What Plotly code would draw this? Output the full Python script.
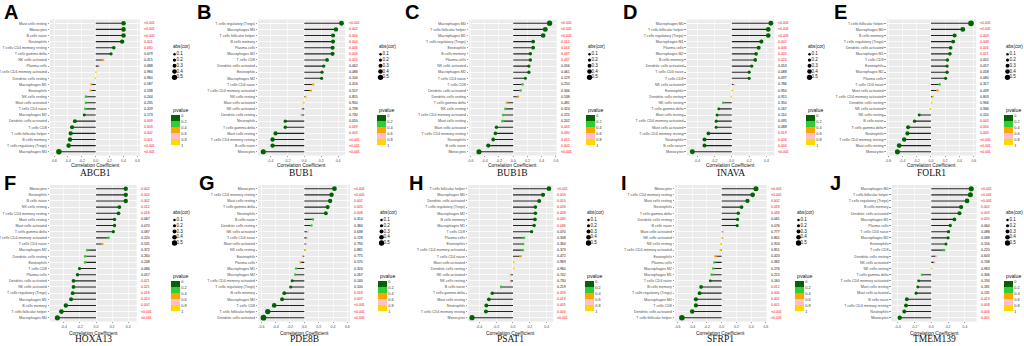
import plotly.graph_objects as go

W, H = 1024, 346

# ---------------- data ----------------
ABCB1_cells = ["Mast cells resting", "Monocytes", "B cells naive", "Neutrophils", "T cells CD4 memory resting",
               "T cells gamma delta", "NK cells activated", "Plasma cells", "T cells CD4 memory activated",
               "Dendritic cells resting", "Macrophages M1", "Eosinophils", "NK cells resting", "Mast cells activated",
               "T cells CD4 naive", "Macrophages M2", "Dendritic cells activated", "T cells CD8",
               "T cells follicular helper", "B cells memory", "T cells regulatory (Tregs)", "Macrophages M0"]
ABCB1_cor = [0.40, 0.40, 0.40, 0.38, 0.26, 0.22, 0.105, 0.05, 0.004, -0.006, -0.065, -0.075, -0.14, -0.14,
             -0.15, -0.165, -0.30, -0.34, -0.36, -0.37, -0.39, -0.53]
ABCB1_p = ["<0.001", "<0.001", "<0.001", "0.001", "0.030", "0.079", "0.415", "0.688", "0.984", "0.960", "0.587",
           "0.538", "0.244", "0.235", "0.209", "0.173", "0.009", "0.003", "0.002", "0.001", "<0.001", "<0.001"]

BUB1_cells = ["T cells regulatory (Tregs)", "Macrophages M0", "T cells follicular helper", "B cells memory",
              "Plasma cells", "Macrophages M1", "T cells CD8", "Dendritic cells activated", "Eosinophils",
              "Macrophages M2", "T cells CD4 naive", "T cells CD4 memory activated", "NK cells resting",
              "Mast cells activated", "NK cells activated", "Dendritic cells resting", "Neutrophils",
              "T cells gamma delta", "Mast cells resting", "T cells CD4 memory resting", "B cells naive", "Monocytes"]
BUB1_cor = [0.44, 0.375, 0.34, 0.34, 0.335, 0.335, 0.27, 0.23, 0.21, 0.205, 0.105, 0.08, 0.02, -0.01, -0.03,
            -0.04, -0.225, -0.225, -0.34, -0.375, -0.375, -0.485]
BUB1_p = ["<0.001", "0.002", "0.004", "0.004", "0.006", "0.006", "0.020", "0.062", "0.086", "0.100", "0.416",
          "0.557", "0.855", "0.900", "0.798", "0.730", "0.050", "0.049", "0.003", "<0.001", "<0.001", "<0.001"]

BUB1B_cells = ["Macrophages M0", "T cells follicular helper", "Macrophages M1", "T cells regulatory (Tregs)",
               "Eosinophils", "B cells memory", "Plasma cells", "NK cells activated", "Macrophages M2",
               "T cells CD4 naive", "T cells CD8", "Dendritic cells activated", "Dendritic cells resting",
               "T cells gamma delta", "NK cells resting", "T cells CD4 memory activated", "Mast cells resting",
               "Mast cells activated", "T cells CD4 memory resting", "Neutrophils", "B cells naive", "Monocytes"]
BUB1B_cor = [0.51, 0.45, 0.42, 0.28, 0.28, 0.24, 0.24, 0.22, 0.22, 0.17, 0.13, 0.105, 0.07, -0.09, -0.11, -0.14,
             -0.15, -0.235, -0.25, -0.28, -0.35, -0.48]
BUB1B_p = ["<0.001", "<0.001", "<0.001", "0.012", "0.014", "0.037", "0.037", "0.056", "0.061", "0.129", "0.250",
           "0.346", "0.538", "0.481", "0.324", "0.225", "0.202", "0.043", "0.030", "0.015", "0.002", "<0.001"]

INAVA_cells = ["Macrophages M0", "T cells follicular helper", "T cells regulatory (Tregs)", "Macrophages M1",
               "Plasma cells", "Macrophages M2", "B cells memory", "Dendritic cells activated", "T cells CD4 naive",
               "T cells CD8", "NK cells activated", "Eosinophils", "Dendritic cells resting", "NK cells resting",
               "T cells gamma delta", "Mast cells resting", "T cells CD4 memory activated", "Mast cells activated",
               "T cells CD4 memory resting", "Neutrophils", "B cells naive", "Monocytes"]
INAVA_cor = [0.45, 0.42, 0.42, 0.34, 0.31, 0.28, 0.27, 0.23, 0.20, 0.20, 0.03, 0.01, -0.005, -0.10, -0.15, -0.17,
             -0.18, -0.18, -0.27, -0.315, -0.315, -0.455]
INAVA_p = ["<0.001", "<0.001", "<0.001", "0.002", "0.006", "0.020", "0.024", "0.053", "0.088", "0.097", "0.786",
           "0.950", "0.915", "0.350", "0.167", "0.110", "0.095", "0.088", "0.019", "0.004", "0.004", "<0.001"]

FOLR1_cells = ["T cells follicular helper", "Macrophages M0", "B cells memory", "T cells regulatory (Tregs)",
               "Dendritic cells activated", "Macrophages M1", "T cells CD8", "Eosinophils", "Macrophages M2",
               "Plasma cells", "T cells CD4 naive", "Mast cells activated", "T cells CD4 memory activated",
               "Dendritic cells resting", "NK cells activated", "NK cells resting", "B cells naive",
               "T cells gamma delta", "Neutrophils", "T cells CD4 memory resting", "Mast cells resting", "Monocytes"]
FOLR1_cor = [0.56, 0.445, 0.33, 0.31, 0.275, 0.265, 0.23, 0.225, 0.225, 0.205, 0.12, 0.09, 0.03, 0.01, -0.01,
             -0.165, -0.23, -0.32, -0.33, -0.375, -0.445, -0.47]
FOLR1_p = ["<0.001", "<0.001", "0.003", "0.008", "0.016", "0.021", "0.052", "0.057", "0.058", "0.080", "0.317",
           "0.439", "0.803", "0.946", "0.946", "0.150", "0.043", "0.004", "0.003", "<0.001", "<0.001", "<0.001"]

HOXA13_cells = ["Monocytes", "Neutrophils", "B cells naive", "NK cells resting", "T cells CD4 memory resting",
                "Mast cells resting", "Mast cells activated", "T cells gamma delta", "T cells CD4 memory activated",
                "T cells CD4 naive", "Macrophages M2", "Dendritic cells resting", "Eosinophils", "T cells CD8",
                "Plasma cells", "Dendritic cells activated", "NK cells activated", "T cells regulatory (Tregs)",
                "Macrophages M1", "B cells memory", "T cells follicular helper", "Macrophages M0"]
HOXA13_cor = [0.37, 0.37, 0.37, 0.29, 0.28, 0.23, 0.23, 0.215, 0.155, 0.08, -0.11, -0.135, -0.135, -0.205, -0.23,
              -0.28, -0.28, -0.29, -0.31, -0.375, -0.43, -0.48]
HOXA13_p = ["0.002", "0.002", "0.002", "0.012", "0.018", "0.067", "0.070", "0.087", "0.220", "0.531", "0.372",
            "0.260", "0.248", "0.086", "0.057", "0.021", "0.021", "0.018", "0.010", "0.002", "<0.001", "<0.001"]

PDE8B_cells = ["Monocytes", "T cells CD4 memory resting", "Mast cells resting", "T cells gamma delta", "Neutrophils",
               "B cells naive", "Dendritic cells resting", "NK cells activated", "T cells CD4 naive",
               "Mast cells activated", "NK cells resting", "Eosinophils", "Plasma cells", "Macrophages M1",
               "Macrophages M2", "T cells CD4 memory activated", "T cells regulatory (Tregs)", "B cells memory",
               "Macrophages M0", "T cells CD8", "T cells follicular helper", "Dendritic cells activated"]
PDE8B_cor = [0.42, 0.38, 0.36, 0.325, 0.30, 0.12, 0.10, 0.05, 0.04, 0.03, 0.015, -0.03, -0.055, -0.115, -0.125,
             -0.17, -0.19, -0.28, -0.31, -0.42, -0.51, -0.57]
PDE8B_p = ["<0.001", "<0.001", "0.002", "0.005", "0.008", "0.314", "0.384", "0.638", "0.728", "0.794", "0.881",
           "0.775", "0.570", "0.324", "0.267", "0.140", "0.100", "0.018", "0.007", "<0.001", "<0.001", "<0.001"]

PSAT1_cells = ["T cells follicular helper", "Macrophages M0", "Dendritic cells activated", "T cells regulatory (Tregs)",
               "Macrophages M2", "B cells memory", "Macrophages M1", "T cells CD8", "Plasma cells", "Eosinophils",
               "T cells CD4 memory activated", "T cells CD4 naive", "Mast cells activated", "Dendritic cells resting",
               "NK cells activated", "NK cells resting", "B cells naive", "T cells gamma delta", "Mast cells resting",
               "Neutrophils", "T cells CD4 memory resting", "Monocytes"]
PSAT1_cor = [0.425, 0.355, 0.31, 0.265, 0.265, 0.26, 0.25, 0.22, 0.13, 0.12, 0.115, 0.09, 0.01, 0.01, -0.035,
             -0.035, -0.14, -0.245, -0.285, -0.315, -0.32, -0.485]
PSAT1_p = ["<0.001", "0.003", "0.010", "0.026", "0.028", "0.030", "0.036", "0.070", "0.308", "0.364", "0.373",
           "0.472", "0.969", "0.960", "0.742", "0.730", "0.219", "0.033", "0.013", "0.005", "0.004", "<0.001"]

SFRP1_cells = ["Monocytes", "T cells CD4 memory resting", "Mast cells resting", "Neutrophils", "T cells gamma delta",
               "Dendritic cells resting", "B cells naive", "Mast cells activated", "NK cells activated",
               "NK cells resting", "T cells CD4 memory activated", "Eosinophils", "Plasma cells", "Macrophages M2",
               "Macrophages M1", "T cells CD4 naive", "B cells memory", "T cells regulatory (Tregs)",
               "Macrophages M0", "T cells CD8", "Dendritic cells activated", "T cells follicular helper"]
SFRP1_cor = [0.465, 0.42, 0.35, 0.27, 0.225, 0.215, 0.21, 0.02, 0.015, -0.01, -0.02, -0.085, -0.10, -0.115, -0.135,
             -0.155, -0.28, -0.30, -0.35, -0.35, -0.40, -0.54]
SFRP1_p = ["<0.001", "<0.001", "0.002", "0.018", "0.048", "0.061", "0.076", "0.777", "0.841", "0.924", "0.851",
           "0.420", "0.382", "0.276", "0.215", "0.160", "0.012", "0.006", "0.002", "0.001", "<0.001", "<0.001"]

TMEM139_cells = ["Macrophages M0", "T cells follicular helper", "T cells regulatory (Tregs)", "B cells memory",
                 "Dendritic cells activated", "Macrophages M1", "Plasma cells", "T cells CD4 naive", "Macrophages M2",
                 "Eosinophils", "T cells CD8", "Dendritic cells resting", "NK cells activated", "NK cells resting",
                 "T cells gamma delta", "T cells CD4 memory activated", "Mast cells resting", "Mast cells activated",
                 "B cells naive", "T cells CD4 memory resting", "Neutrophils", "Monocytes"]
TMEM139_cor = [0.475, 0.465, 0.425, 0.355, 0.335, 0.275, 0.225, 0.205, 0.20, 0.175, 0.15, 0.06, 0.04, 0.004, -0.11,
               -0.15, -0.16, -0.18, -0.29, -0.30, -0.32, -0.375]
TMEM139_p = ["<0.001", "<0.001", "<0.001", "0.002", "0.003", "0.020", "0.064", "0.088", "0.088", "0.156", "0.220",
             "0.643", "0.748", "0.963", "0.346", "0.194", "0.181", "0.131", "0.013", "0.008", "0.006", "0.001"]

GENES = ["ABCB1", "BUB1", "BUB1B", "INAVA", "FOLR1", "HOXA13", "PDE8B", "PSAT1", "SFRP1", "TMEM139"]
LETTERS = ["A", "B", "C", "D", "E", "F", "G", "H", "I", "J"]
CELLS = [ABCB1_cells, BUB1_cells, BUB1B_cells, INAVA_cells, FOLR1_cells,
         HOXA13_cells, PDE8B_cells, PSAT1_cells, SFRP1_cells, TMEM139_cells]
CORS = [ABCB1_cor, BUB1_cor, BUB1B_cor, INAVA_cor, FOLR1_cor,
        HOXA13_cor, PDE8B_cor, PSAT1_cor, SFRP1_cor, TMEM139_cor]
PVALS = [ABCB1_p, BUB1_p, BUB1B_p, INAVA_p, FOLR1_p,
         HOXA13_p, PDE8B_p, PSAT1_p, SFRP1_p, TMEM139_p]

SIZE_LEGEND_VALUES = [0.1, 0.2, 0.3, 0.4, 0.5]
SIZE_LEGEND_LABELS = ["0.1", "0.2", "0.3", "0.4", "0.5"]
PVALUE_TICKS = [0, 0.2, 0.4, 0.6, 0.8, 1]
PVALUE_TICK_LABELS = ["0", "0.2", "0.4", "0.6", "0.8", "1"]
X_BREAKS = [-0.6, -0.4, -0.2, 0.0, 0.2, 0.4, 0.6]

# ---------------- layout geometry (pixels) ----------------
# plot left, plot right, x-min, x-max, legend left, letter x
GEOM = [
    (50, 140, -0.658, 0.637, 171, 2),
    (258.3, 345, -0.544, 0.482, 377, 195),
    (469, 556.7, -0.62, 0.61, 586, 403),
    (686.7, 774.3, -0.52, 0.49, 806, 621),
    (886.7, 976, -0.62, 0.63, 1004, 832),
    (50, 136.7, -0.572, 0.506, 171, 2),
    (258.3, 350, -0.642, 0.637, 378, 197),
    (468.2, 553.3, -0.53, 0.477, 585, 407),
    (675, 766.7, -0.634, 0.611, 795, 619),
    (891.7, 976.7, -0.47, 0.54, 1004, 828),
]
ROW_TOP = [19.6, 185.0]
ROW_BOT = [155.4, 321.4]
LETTER_Y = [12, 182.5]
XLABEL_Y = [165.0, 333.3]
GENE_Y = [172.8, 339.0]
SIZE_TITLE_Y = [46.5, 212.5]
SIZE_ROW0_Y = [54.3, 220.0]
SIZE_STEP = 5.75
PV_TITLE_Y = [109.5, 275.5]
PV_BAR_TOP = [115.5, 281.5]
PV_BAR_LEN = 29.5

FONT = "Liberation Sans"
TXT_GREY = "#4D4D4D"
BG = "#EBEBEB"

COLORSCALE = [[0.0, "#FFD700"], [0.2, "#FFD700"], [0.2, "#FFC0CB"], [0.4, "#FFC0CB"],
              [0.4, "#FFA500"], [0.6, "#FFA500"], [0.6, "#32CD32"], [0.8, "#32CD32"],
              [0.8, "#006400"], [1.0, "#006400"]]


def py(y):
    return 1 - y / H


def dot_size(v):
    return 1.8 + 7.0 * abs(v)


fig = go.Figure()
layout = {}
annotations = []
shapes = []

for i in range(10):
    cells, cor, plab = CELLS[i], CORS[i], PVALS[i]
    left, right, xmin, xmax, lx, letx = GEOM[i]
    row = i // 5
    top, bot = ROW_TOP[row], ROW_BOT[row]
    n = 2 * i + 1
    m = 2 * i + 2
    xa = "x" if n == 1 else f"x{n}"
    ya = "y" if n == 1 else f"y{n}"
    xl, yl = f"x{m}", f"y{m}"
    xkey = "xaxis" if n == 1 else f"xaxis{n}"
    ykey = "yaxis" if n == 1 else f"yaxis{n}"
    pnum = [0.0005 if s.startswith("<") else float(s) for s in plab]

    tv = [b for b in X_BREAKS if xmin <= b <= xmax]
    tt = [f"{b:.1f}" for b in tv]

    layout[xkey] = dict(domain=[left / W, right / W], range=[xmin, xmax], anchor=ya,
                        tickmode="array", tickvals=tv, ticktext=tt,
                        ticks="outside", ticklen=1, tickwidth=0.5, tickcolor="#333333",
                        tickfont=dict(size=3.5, color=TXT_GREY, family=FONT),
                        showgrid=True, gridcolor="white", gridwidth=0.6,
                        zeroline=False, showline=False, fixedrange=True)
    layout[ykey] = dict(domain=[py(bot), py(top)], anchor=xa, type="category",
                        categoryorder="array", categoryarray=cells,
                        range=[len(cells) - 0.4, -0.6],
                        ticks="outside", ticklen=1.5, tickwidth=0.5, tickcolor="#333333",
                        tickfont=dict(size=3.6, color=TXT_GREY, family=FONT),
                        showgrid=True, gridcolor="white", gridwidth=0.8,
                        zeroline=False, showline=False, fixedrange=True)
    shapes.append(dict(type="rect", xref=f"{xa} domain", yref=f"{ya} domain",
                       x0=0, x1=1, y0=0, y1=1, fillcolor=BG, line=dict(width=0), layer="below"))

    # segments
    sx, sy = [], []
    for c, name in zip(cor, cells):
        sx += [0, c, None]
        sy += [name, name, None]
    fig.add_trace(go.Scatter(x=sx, y=sy, mode="lines", xaxis=xa, yaxis=ya,
                             line=dict(color="#222222", width=1.1), hoverinfo="skip"))

    # dots with p-value colour scale (0 at top of colour bar)
    fig.add_trace(go.Scatter(
        x=cor, y=cells, mode="markers", xaxis=xa, yaxis=ya, hoverinfo="skip",
        marker=dict(size=[dot_size(c) for c in cor], color=[-p for p in pnum], opacity=1,
                    cmin=-1, cmax=0, colorscale=COLORSCALE, line=dict(width=0),
                    showscale=True,
                    colorbar=dict(x=lx / W, xanchor="left", y=py(PV_BAR_TOP[row] + PV_BAR_LEN / 2),
                                  yanchor="middle", len=PV_BAR_LEN, lenmode="pixels",
                                  thickness=9, thicknessmode="pixels", outlinewidth=0,
                                  xpad=0, ypad=0, ticks="",
                                  tickvals=[-t for t in PVALUE_TICKS], ticktext=PVALUE_TICK_LABELS,
                                  tickfont=dict(size=3.8, color="#333333", family=FONT)))))

    # p-value labels on the right
    for name, lab, p in zip(cells, plab, pnum):
        annotations.append(dict(text=lab, x=1, xref=f"{xa} domain", xshift=2, xanchor="left",
                                y=name, yref=ya, yanchor="middle", showarrow=False,
                                font=dict(size=3.5, family=FONT, color="#FF0000" if p < 0.05 else "#111111")))

    # size legend (own small axes)
    n_leg = len(SIZE_LEGEND_VALUES)
    ltop = SIZE_ROW0_Y[row] - SIZE_STEP / 2
    lbot = ltop + SIZE_STEP * n_leg
    lw = min(22, W - lx)
    layout[f"xaxis{m}"] = dict(domain=[lx / W, (lx + lw) / W], range=[0, lw], anchor=yl,
                               visible=False, fixedrange=True)
    layout[f"yaxis{m}"] = dict(domain=[py(lbot), py(ltop)], range=[n_leg - 0.5, -0.5], anchor=xl,
                               visible=False, fixedrange=True)
    fig.add_trace(go.Scatter(x=[3.5] * n_leg, y=list(range(n_leg)), mode="markers", xaxis=xl, yaxis=yl,
                             marker=dict(size=[dot_size(v) for v in SIZE_LEGEND_VALUES], color="black",
                                         opacity=1, line=dict(width=0)),
                             hoverinfo="skip", cliponaxis=False))
    fig.add_trace(go.Scatter(x=[5.5] * n_leg, y=list(range(n_leg)), mode="text", xaxis=xl, yaxis=yl,
                             text=SIZE_LEGEND_LABELS, textposition="middle right",
                             textfont=dict(size=4.6, color="#222222", family=FONT),
                             hoverinfo="skip", cliponaxis=False))

    # texts
    annotations.append(dict(text="abs(cor)", x=lx / W, xref="paper", xanchor="left", y=py(SIZE_TITLE_Y[row]),
                            yref="paper", yanchor="middle", showarrow=False,
                            font=dict(size=4.6, color="#111111", family=FONT)))
    annotations.append(dict(text="pvalue", x=lx / W, xref="paper", xanchor="left", y=py(PV_TITLE_Y[row]),
                            yref="paper", yanchor="middle", showarrow=False,
                            font=dict(size=5.2, color="#111111", family=FONT)))
    cx = (left + right) / 2 / W
    annotations.append(dict(text="Correlation Coefficient", x=cx, xref="paper", xanchor="center",
                            y=py(XLABEL_Y[row]), yref="paper", yanchor="middle", showarrow=False,
                            font=dict(size=4.9, color="#111111", family=FONT)))
    annotations.append(dict(text=GENES[i], x=cx, xref="paper", xanchor="center",
                            y=py(GENE_Y[row]), yref="paper", yanchor="middle", showarrow=False,
                            font=dict(size=9.5, color="#111111", family="Liberation Serif")))
    annotations.append(dict(text=f"<b>{LETTERS[i]}</b>", x=letx / W, xref="paper", xanchor="left",
                            y=py(LETTER_Y[row]), yref="paper", yanchor="middle", showarrow=False,
                            font=dict(size=20, color="black", family=FONT)))

fig.update_layout(
    width=W, height=H, autosize=False,
    margin=dict(l=0, r=0, t=0, b=0, pad=0, autoexpand=False),
    paper_bgcolor="white", plot_bgcolor="white",
    showlegend=False, font=dict(family=FONT),
    annotations=annotations, shapes=shapes,
    **layout,
)

fig.write_html("out.html", config={"displayModeBar": False, "staticPlot": True},
               post_script="document.body.style.margin='0';document.body.style.overflow='hidden';")
